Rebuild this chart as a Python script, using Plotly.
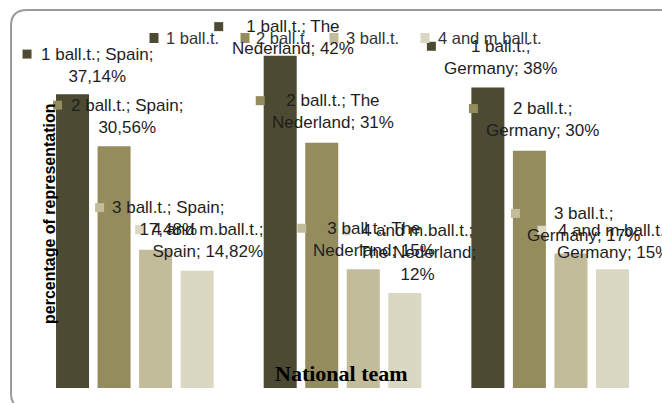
import textwrap
import plotly.graph_objects as go

# ---------------- data ----------------
teams = ["Spain", "The Nederland", "Germany"]
series_names = ["1 ball.t.", "2 ball.t.", "3 ball.t.", "4 and m.ball.t."]
ball1 = [37.14, 42, 38]
ball2 = [30.56, 31, 30]
ball3 = [17.48, 15, 17]
ball4 = [14.82, 12, 15]
series_values = [ball1, ball2, ball3, ball4]
y_title = "percentage of representation"
x_title = "National team"

# ---------------- style ----------------
colors = ["#4C4A32", "#958C5E", "#C2BC9B", "#DAD7C3"]
W, H = 662, 403
# inner "plot" box of the Excel chart (pixels)
IL, IR, IT, IB = 31, 654, 32, 388
YMAX = 45
CAT_PX = (IR - IL) / len(teams)
PPU = (IB - IT) / YMAX
BARGAP, GROUPGAP = 0.2, 0.205
LBL_FONT = 17
LINE_H = 1.3 * LBL_FONT

# label offsets relative to bar centre / bar top (pixels; dy<0 is up)
lbl_dx = [[24.5, 12.5, 13], [12.5, 11.5, 13], [12.5, 10.5, 12.5], [11, 12.5, 1.5]]
lbl_dy = [[-18, -7, -19], [-19, -20, -20], [-20, -19, -18], [-19, -18, -17]]
key_dx = [[-70, -74, -69.5], [-69, -73, -69], [-68.5, -72, -68], [-68.5, -71, -72]]


def px_x(px):
    return px / W


def px_y(py):
    return (H - py) / H


def fmt(v):
    if float(v).is_integer():
        return str(int(v))
    return f"{v:.2f}".replace(".", ",")


fig = go.Figure()
xs = list(range(len(teams)))
for name, vals, col in zip(series_names, series_values, colors):
    fig.add_trace(go.Bar(x=xs, y=vals, name=name, marker_color=col,
                         marker_line_width=0, showlegend=False,
                         hoverinfo="name+y"))

annotations = []
shapes = []
nser = len(series_names)
slot = (1 - BARGAP) / nser
for si, (name, vals) in enumerate(zip(series_names, series_values)):
    for ti, (team, v) in enumerate(zip(teams, vals)):
        lines = textwrap.wrap(f"{name}; {team}; {fmt(v)}%", width=17,
                              break_long_words=False)
        n = len(lines)
        xb = ti + (si - (nser - 1) / 2) * slot
        dx = lbl_dx[si][ti]
        dy = lbl_dy[si][ti]
        annotations.append(dict(
            x=xb, y=v, xref="x", yref="y", text="<br>".join(lines),
            showarrow=False, xanchor="center", yanchor="middle",
            xshift=dx, yshift=-(dy - (n - 1) * LINE_H / 2),
            font=dict(family="Liberation Sans", size=LBL_FONT, color="#1e1e1e")))
        up = -(dy - (n - 1) * LINE_H)
        kx = dx + key_dx[si][ti]
        shapes.append(dict(
            type="rect", xref="x", yref="y", xsizemode="pixel", ysizemode="pixel",
            xanchor=xb, yanchor=v, x0=kx - 4.5, x1=kx + 4.5, y0=up - 4.5, y1=up + 4.5,
            fillcolor=colors[si], line=dict(width=0), layer="above"))

# legend (manual, Excel-like)
leg_key_px = [154, 245, 334, 425]
leg_txt_px = [164, 254, 344, 436]
leg_y_px = 38
for si, name in enumerate(series_names):
    shapes.append(dict(
        type="rect", xref="paper", yref="paper",
        x0=px_x(leg_key_px[si] - 4.5), x1=px_x(leg_key_px[si] + 4.5),
        y0=px_y(leg_y_px + 5), y1=px_y(leg_y_px - 5),
        fillcolor=colors[si], line=dict(width=0), layer="above"))
    annotations.append(dict(
        x=px_x(leg_txt_px[si]), y=px_y(leg_y_px), xref="paper", yref="paper",
        text=name, showarrow=False, xanchor="left", yanchor="middle",
        font=dict(family="Liberation Sans", size=16.5, color="#333333")))

# axis titles
annotations.append(dict(
    x=px_x(49), y=px_y(213), xref="paper", yref="paper", text=f"<b>{y_title}</b>",
    textangle=-90, showarrow=False, xanchor="center", yanchor="middle",
    font=dict(family="Liberation Sans", size=16, color="#000000")))
annotations.append(dict(
    x=px_x(341), y=px_y(373), xref="paper", yref="paper", text=f"<b>{x_title}</b>",
    showarrow=False, xanchor="center", yanchor="middle",
    font=dict(family="Liberation Serif", size=22, color="#000000")))

# rounded chart frame
L, T, R, B, r = 11, 10, 676, 409, 16
path = (f"M {px_x(R)},{px_y(T + r)} Q {px_x(R)},{px_y(T)} {px_x(R - r)},{px_y(T)} "
        f"L {px_x(L + r)},{px_y(T)} Q {px_x(L)},{px_y(T)} {px_x(L)},{px_y(T + r)} "
        f"L {px_x(L)},{px_y(B - r)} Q {px_x(L)},{px_y(B)} {px_x(L + r)},{px_y(B)} "
        f"L {px_x(R - r)},{px_y(B)}")
shapes.append(dict(type="path", xref="paper", yref="paper", path=path,
                   line=dict(color="#9a9a9a", width=2), layer="above"))

x_lo = -0.5 - IL / CAT_PX
x_hi = len(teams) - 0.5 + (W - IR) / CAT_PX
y_lo = -(H - IB) / PPU
y_hi = YMAX + IT / PPU

fig.update_layout(
    width=W, height=H,
    margin=dict(l=0, r=0, t=0, b=0, pad=0),
    paper_bgcolor="white", plot_bgcolor="white",
    barmode="group", bargap=BARGAP, bargroupgap=GROUPGAP,
    xaxis=dict(range=[x_lo, x_hi], tickvals=xs, ticktext=teams,
               showticklabels=False, showgrid=False, zeroline=False,
               showline=False, ticks="", fixedrange=True),
    yaxis=dict(range=[y_lo, y_hi], visible=False, showgrid=False, zeroline=False,
               fixedrange=True),
    annotations=annotations, shapes=shapes, showlegend=False,
)

fig.write_html("out.html", config={"displayModeBar": False},
               post_script="document.body.style.margin='0';"
                           "document.body.style.overflow='hidden';")
